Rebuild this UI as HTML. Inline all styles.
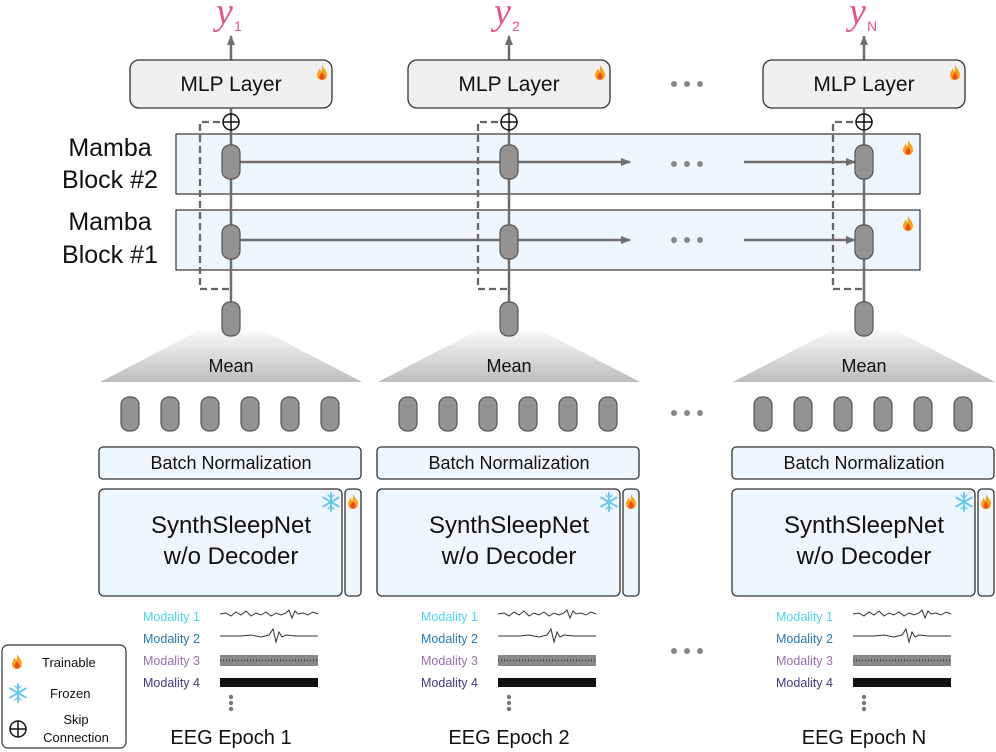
<!DOCTYPE html>
<html><head><meta charset="utf-8"><style>
html,body{margin:0;padding:0;background:#fff;}
svg{display:block;font-family:"Liberation Sans",sans-serif;}
</style></head><body>
<svg width="996" height="752" viewBox="0 0 996 752" xmlns="http://www.w3.org/2000/svg">
<defs>
<linearGradient id="tg" x1="0" y1="0" x2="0" y2="1"><stop offset="0" stop-color="#fafafa"/><stop offset="1" stop-color="#bdbdbd"/></linearGradient>
<marker id="ah" markerWidth="10" markerHeight="8" refX="9" refY="4" orient="auto" markerUnits="userSpaceOnUse"><path d="M0,0 L10,4 L0,8 z" fill="#6e6e6e"/></marker>
<g id="flame"><path d="M5,0 C7,4 10,6 10,10 C10,13.5 7.5,15 5,15 C2.5,15 0,13.5 0,10 C0,7 2,6 2.5,3.5 C3.5,5.5 4,6 4.5,6.5 C5,4 5,2 5,0z" fill="#f6a21a"/><path d="M5,7 C6.5,9 7.5,10.5 7.5,12 C7.5,13.7 6.3,14.5 5,14.5 C3.7,14.5 2.5,13.7 2.5,12 C2.5,10.5 3.8,9.5 5,7z" fill="#e94e1b"/></g>
<g id="snow" stroke="#6cc6f0" stroke-width="2" stroke-linecap="round"><line x1="0" y1="-9" x2="0" y2="9"/><line x1="-7.8" y1="-4.5" x2="7.8" y2="4.5"/><line x1="-7.8" y1="4.5" x2="7.8" y2="-4.5"/><path d="M-3,-7 L0,-4 L3,-7 M-3,7 L0,4 L3,7" fill="none" stroke-width="1.3"/></g>
<g id="pill"><rect x="-9" y="-17" width="18" height="34" rx="8" fill="#939393" stroke="#555" stroke-width="1.2"/></g>
<g id="col">
  <line x1="0" y1="60" x2="0" y2="36" stroke="#6e6e6e" stroke-width="2.5" marker-end="url(#ah)"/>
  <rect x="-101" y="60" width="202" height="48" rx="9" fill="#f0f0f0" stroke="#333" stroke-width="1.3"/>
  <use href="#flame" x="86" y="65"/>
  <line x1="0" y1="108" x2="0" y2="319" stroke="#6e6e6e" stroke-width="2.5"/>
  <path d="M0,122 L-31,122 L-31,289 L0,289" fill="none" stroke="#666" stroke-width="2.3" stroke-dasharray="7,4"/>
  <circle cx="0" cy="122" r="8" fill="#fff" stroke="#111" stroke-width="1.5"/>
  <line x1="-8" y1="122" x2="8" y2="122" stroke="#111" stroke-width="1.5"/><line x1="0" y1="114" x2="0" y2="130" stroke="#111" stroke-width="1.5"/>
</g>
<g id="colb">
  <path d="M-31,330 L31,330 L131,382 L-131,382 z" fill="url(#tg)"/>
  <use href="#pill" x="-101" y="414"/><use href="#pill" x="-61" y="414"/><use href="#pill" x="-21" y="414"/><use href="#pill" x="19" y="414"/><use href="#pill" x="59" y="414"/><use href="#pill" x="99" y="414"/>
  <rect x="-132" y="447" width="262" height="32" rx="4" fill="#eef7fd" stroke="#333" stroke-width="1.3"/>
  <rect x="-132" y="489" width="243" height="107" rx="5" fill="#eef7fd" stroke="#333" stroke-width="1.3"/>
  <rect x="114" y="489" width="16" height="107" rx="4" fill="#eef7fd" stroke="#333" stroke-width="1.3"/>
  <use href="#snow" x="100" y="502"/>
  <use href="#flame" x="117" y="494"/>
  <polyline points="-11,614 -5,613 0,616 5,612 10,615 15,611 20,616 25,613 30,615 35,612 40,616 45,613 50,615 55,613 58,610 61,618 64,611 67,614 72,613 77,615 82,612 87,614" fill="none" stroke="#333" stroke-width="1"/>
  <polyline points="-11,636 10,636 20,635 30,637 38,635 42,629 45,642 48,632 51,637 55,635 65,636 87,636" fill="none" stroke="#333" stroke-width="1"/>
  <rect x="-11" y="655" width="98" height="11" fill="#888"/>
  <line x1="-11" y1="660.5" x2="87" y2="660.5" stroke="#444" stroke-width="2" stroke-dasharray="1,2"/>
  <rect x="-11" y="678" width="98" height="9" fill="#111"/>
  <circle cx="0" cy="697" r="2.2" fill="#777"/><circle cx="0" cy="703" r="2.2" fill="#777"/><circle cx="0" cy="709" r="2.2" fill="#777"/>
</g>
</defs>

<rect x="176" y="134" width="744" height="60" fill="#eef7fd" stroke="#333" stroke-width="1.2"/>
<rect x="176" y="210" width="744" height="60" fill="#eef7fd" stroke="#333" stroke-width="1.2"/>
<use href="#flame" x="903" y="140"/><use href="#flame" x="903" y="216"/>

<use href="#col" x="231"/><use href="#col" x="509"/><use href="#col" x="864"/>
<use href="#colb" x="231"/><use href="#colb" x="509"/><use href="#colb" x="864"/>

<g stroke="#6e6e6e" stroke-width="2.5">
<line x1="231" y1="162" x2="630" y2="162" marker-end="url(#ah)"/>
<line x1="231" y1="240" x2="630" y2="240" marker-end="url(#ah)"/>
<line x1="744" y1="162" x2="855" y2="162" marker-end="url(#ah)"/>
<line x1="744" y1="240" x2="855" y2="240" marker-end="url(#ah)"/>
</g>
<g>
<use href="#pill" x="231" y="162"/><use href="#pill" x="231" y="242"/><use href="#pill" x="231" y="319"/>
<use href="#pill" x="509" y="162"/><use href="#pill" x="509" y="242"/><use href="#pill" x="509" y="319"/>
<use href="#pill" x="864" y="162"/><use href="#pill" x="864" y="242"/><use href="#pill" x="864" y="319"/>
</g>

<g fill="#888">
<circle cx="674" cy="84" r="3"/><circle cx="687" cy="84" r="3"/><circle cx="700" cy="84" r="3"/>
<circle cx="674" cy="164" r="3"/><circle cx="687" cy="164" r="3"/><circle cx="700" cy="164" r="3"/>
<circle cx="674" cy="240" r="3"/><circle cx="687" cy="240" r="3"/><circle cx="700" cy="240" r="3"/>
<circle cx="674" cy="413" r="3"/><circle cx="687" cy="413" r="3"/><circle cx="700" cy="413" r="3"/>
<circle cx="674" cy="651" r="3"/><circle cx="687" cy="651" r="3"/><circle cx="700" cy="651" r="3"/>
</g>

<g fill="#e25584" font-family="Liberation Serif,serif" font-style="italic">
<text x="216" y="24" font-size="38">y</text><text x="234" y="31" font-size="14" font-family="Liberation Sans,sans-serif" font-style="normal">1</text>
<text x="494" y="24" font-size="38">y</text><text x="512" y="31" font-size="14" font-family="Liberation Sans,sans-serif" font-style="normal">2</text>
<text x="849" y="24" font-size="38">y</text><text x="867" y="31" font-size="14" font-family="Liberation Sans,sans-serif" font-style="normal">N</text>
</g>

<g font-size="21" fill="#111" text-anchor="middle">
<text x="231" y="91">MLP Layer</text><text x="509" y="91">MLP Layer</text><text x="864" y="91">MLP Layer</text>
</g>
<g font-size="25" fill="#111" text-anchor="middle">
<text x="110" y="156">Mamba</text><text x="110" y="188">Block #2</text>
<text x="110" y="230">Mamba</text><text x="110" y="263">Block #1</text>
</g>
<g font-size="18" fill="#111" text-anchor="middle">
<text x="231" y="372">Mean</text><text x="509" y="372">Mean</text><text x="864" y="372">Mean</text>
<text x="231" y="469">Batch Normalization</text><text x="509" y="469">Batch Normalization</text><text x="864" y="469">Batch Normalization</text>
</g>
<g font-size="24" fill="#111" text-anchor="middle">
<text x="231" y="533">SynthSleepNet</text><text x="231" y="564">w/o Decoder</text>
<text x="509" y="533">SynthSleepNet</text><text x="509" y="564">w/o Decoder</text>
<text x="864" y="533">SynthSleepNet</text><text x="864" y="564">w/o Decoder</text>
</g>
<g font-size="12.5">
<g><text x="143" y="621" fill="#4dd6e6">Modality 1</text><text x="143" y="643" fill="#2a78b0">Modality 2</text><text x="143" y="665" fill="#9a70a8">Modality 3</text><text x="143" y="687" fill="#3d3d80">Modality 4</text></g>
<g><text x="421" y="621" fill="#4dd6e6">Modality 1</text><text x="421" y="643" fill="#2a78b0">Modality 2</text><text x="421" y="665" fill="#9a70a8">Modality 3</text><text x="421" y="687" fill="#3d3d80">Modality 4</text></g>
<g><text x="776" y="621" fill="#4dd6e6">Modality 1</text><text x="776" y="643" fill="#2a78b0">Modality 2</text><text x="776" y="665" fill="#9a70a8">Modality 3</text><text x="776" y="687" fill="#3d3d80">Modality 4</text></g>
</g>
<g font-size="20" fill="#111" text-anchor="middle">
<text x="231" y="744">EEG Epoch 1</text><text x="509" y="744">EEG Epoch 2</text><text x="864" y="744">EEG Epoch N</text>
</g>

<rect x="2" y="645" width="124" height="103" rx="6" fill="#fff" stroke="#333" stroke-width="1.2"/>
<use href="#flame" x="12" y="654"/>
<text x="42" y="667" font-size="13" fill="#111">Trainable</text>
<use href="#snow" x="18" y="693"/>
<text x="50" y="698" font-size="13" fill="#111">Frozen</text>
<circle cx="18" cy="729" r="8" fill="#fff" stroke="#111" stroke-width="1.5"/>
<line x1="10" y1="729" x2="26" y2="729" stroke="#111" stroke-width="1.5"/><line x1="18" y1="721" x2="18" y2="737" stroke="#111" stroke-width="1.5"/>
<text x="76" y="724" font-size="13" fill="#111" text-anchor="middle">Skip</text>
<text x="76" y="742" font-size="13" fill="#111" text-anchor="middle">Connection</text>
</svg>
</body></html>
